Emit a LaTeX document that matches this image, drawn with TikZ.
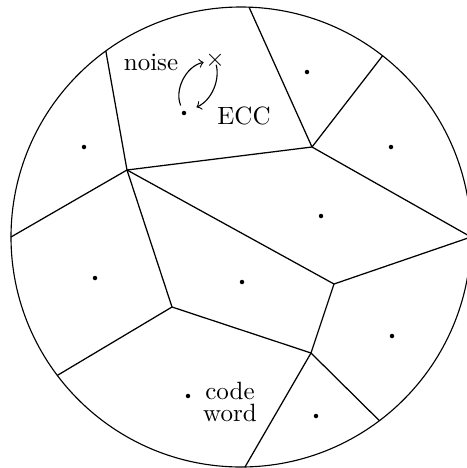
\documentclass[tikz,border=0pt]{standalone}
\usepackage{tikz}
\tikzset{
  disk/.style={circle,draw,line width=0.45pt,inner sep=0pt,outer sep=0pt,
    minimum size=184pt},
  celledge/.style={line width=0.5pt},
  cwdot/.style={circle,fill,inner sep=0pt,minimum size=1.8pt},
  lbl/.style={font=\fontsize{10}{9}\selectfont,inner sep=0pt,align=center},
  noisearrow/.style={->,line width=0.45pt},
}
\begin{document}
\begin{tikzpicture}[x=0.4pt,y=-0.4pt]
  \useasboundingbox (0,0) rectangle (467,468);
  \node[disk] (D) at (241,237) {};
  % boundary points
  \coordinate (b1) at (D.88.5);
  \coordinate (b2) at (D.52.1);
  \coordinate (b3) at (D.126.3);
  \coordinate (b4) at (D.180.25);
  \coordinate (b5) at (D.0.6);
  \coordinate (b6) at (D.-0.8);
  \coordinate (b7) at (D.217.1);
  \coordinate (b8) at (D.-53.3);
  \coordinate (b9) at (D.-89.75);
  % inner vertices
  \coordinate (v1) at (312,147);
  \coordinate (v2) at (127,170);
  \coordinate (v3) at (334,284);
  \coordinate (v4) at (172,307);
  \coordinate (v5) at (311,353);
  \draw[celledge] (b1) -- (v1);
  \draw[celledge] (b2) -- (v1);
  \draw[celledge] (v1) -- (v2);
  \draw[celledge] (v1) -- (b5);
  \draw[celledge] (b3) -- (v2);
  \draw[celledge] (v2) -- (b4);
  \draw[celledge] (v2) -- (v4);
  \draw[celledge] (v2) -- (v3);
  \draw[celledge] (v3) -- (b6);
  \draw[celledge] (v3) -- (v5);
  \draw[celledge] (v4) -- (v5);
  \draw[celledge] (v4) -- (b7);
  \draw[celledge] (v5) -- (b8);
  \draw[celledge] (v5) -- (b9);
  % code words
  \node[cwdot] (cw1) at (184,113) {};
  \node[cwdot] (cw2) at (307,72) {};
  \node[cwdot] (cw3) at (84,147) {};
  \node[cwdot] (cw4) at (391,147) {};
  \node[cwdot] (cw5) at (321,216) {};
  \node[cwdot] (cw6) at (95,278) {};
  \node[cwdot] (cw7) at (242,282) {};
  \node[cwdot] (cw8) at (392,336) {};
  \node[cwdot] (cw9) at (188,396) {};
  \node[cwdot] (cw10) at (316,416) {};
  % noise and correction
  \coordinate (err) at (215,60);
  \node[inner sep=0pt] (errmark) at (err) {$\times$};
  \draw[noisearrow,shorten <=2.2pt,shorten >=4.6pt]
    (cw1) .. controls (174,90) and (186,66) .. (err);
  \draw[noisearrow,shorten <=2pt,shorten >=4.4pt]
    (err) .. controls (220,80) and (212,100) .. (cw1);
  \node[lbl,anchor=base] (noiselbl) at (151,70) {noise};
  \node[lbl,anchor=base] (ecclbl) at (244,124) {ECC};
  \node[lbl] (cwlbl) at (230,402) {code\\word};
\end{tikzpicture}
\end{document}
